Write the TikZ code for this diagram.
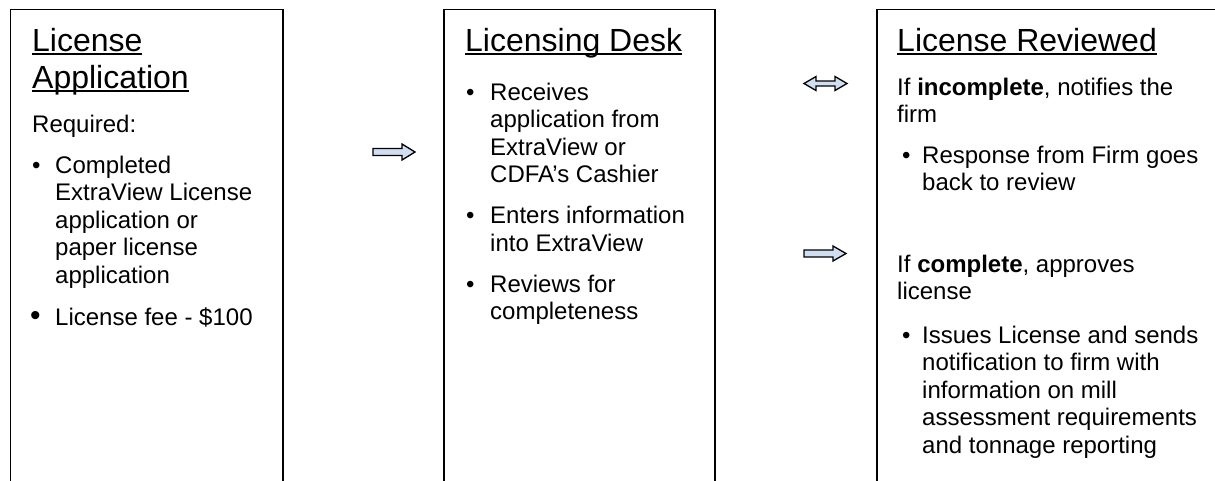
\documentclass[tikz,border=0pt]{standalone}
\usepackage{fontspec}
\setmainfont{Liberation Sans}
\newsavebox{\myulbox}
\newcommand{\myul}[1]{\sbox{\myulbox}{#1}\rlap{\rule[-3.8pt]{\wd\myulbox}{2pt}}\usebox{\myulbox}}
\definecolor{arrowfill}{HTML}{CFDEF0}
\begin{document}
\begin{tikzpicture}[x=1pt,y=-1pt,
  box/.style={draw=black, line width=1.6pt, anchor=north west, inner sep=0pt, outer sep=0pt, minimum height=600pt},
  ttl/.style={anchor=base west, inner sep=0pt, font=\fontsize{32}{36.8}\selectfont},
  tl/.style={anchor=base west, inner sep=0pt, font=\fontsize{24}{27.6}\selectfont},
  bul/.style={anchor=base west, inner sep=0pt, font=\fontsize{24}{27.6}\selectfont},
  blockarrow/.style={draw=black, line width=1.3pt, fill=arrowfill, line join=miter}]
\useasboundingbox (0,0) rectangle (1215,480);
\clip (0,0) rectangle (1215,480);
% boxes
\node[box, minimum width=272.5pt] (b1) at (10.5,9.5) {};
\node[box, minimum width=271pt] (b2) at (444,9.5) {};
\node[box, minimum width=500pt] (b3) at (877,9.5) {};
% box 1
\node[ttl] (t1a) at (32,51) {\myul{License}};
\node[ttl] (t1b) at (32,88) {\myul{Application}};
\node[tl] (r1) at (32,132) {Required:};
\node[bul] (u1a) at (32,173) {•};
\node[tl] (l1a) at (55,173) {Completed};
\node[tl] (l1b) at (55,200.6) {ExtraView License};
\node[tl] (l1c) at (55,228.2) {application or};
\node[tl] (l1d) at (55,255.8) {paper license};
\node[tl] (l1e) at (55,283.4) {application};
\node[bul, font=\fontsize{30}{30}\selectfont] (u1b) at (30,325) {•};
\node[tl] (l1f) at (55,325) {License fee - \$100};
% box 2
\node[ttl] (t2) at (465,51) {\myul{Licensing Desk}};
\node[bul] (u2a) at (466,100) {•};
\node[tl] (l2a) at (490,100) {Receives};
\node[tl] (l2b) at (490,127.6) {application from};
\node[tl] (l2c) at (490,155.2) {ExtraView or};
\node[tl] (l2d) at (490,182.8) {CDFA’s Cashier};
\node[bul] (u2b) at (466,223.5) {•};
\node[tl] (l2e) at (490,223.5) {Enters information};
\node[tl] (l2f) at (490,251.1) {into ExtraView};
\node[bul] (u2c) at (466,292) {•};
\node[tl] (l2g) at (490,292) {Reviews for};
\node[tl] (l2h) at (490,319.6) {completeness};
% box 3
\node[ttl] (t3) at (897,51) {\myul{License Reviewed}};
\node[tl] (l3a) at (897,95) {If \textbf{incomplete}, notifies the};
\node[tl] (l3b) at (897,122.6) {firm};
\node[bul] (u3a) at (902,163) {•};
\node[tl] (l3c) at (922,163) {Response from Firm goes};
\node[tl] (l3d) at (922,190.6) {back to review};
\node[tl] (l3e) at (897,272) {If \textbf{complete}, approves};
\node[tl] (l3f) at (897,299.6) {license};
\node[bul] (u3b) at (902,343) {•};
\node[tl] (l3g) at (922,343) {Issues License and sends};
\node[tl] (l3h) at (922,370.6) {notification to firm with};
\node[tl] (l3i) at (922,398.2) {information on mill};
\node[tl] (l3j) at (922,425.8) {assessment requirements};
\node[tl] (l3k) at (922,453.4) {and tonnage reporting};
% arrows
\coordinate (a1) at (373,152);
\draw[blockarrow] (a1) ++(0,-3.5) -- ++(29,0) -- ++(0,-4.5) -- ++(13,8) -- ++(-13,8) -- ++(0,-4.5) -- ++(-29,0) -- cycle;
\coordinate (a2) at (804,83.5);
\draw[blockarrow] (a2) -- ++(12,-7) -- ++(0,4.5) -- ++(19,0) -- ++(0,-4.5) -- ++(12,7) -- ++(-12,7) -- ++(0,-4.5) -- ++(-19,0) -- ++(0,4.5) -- cycle;
\coordinate (a3) at (804,253.5);
\draw[blockarrow] (a3) ++(0,-3.5) -- ++(29,0) -- ++(0,-4) -- ++(13,7.5) -- ++(-13,7.5) -- ++(0,-4) -- ++(-29,0) -- cycle;
\end{tikzpicture}
\end{document}
